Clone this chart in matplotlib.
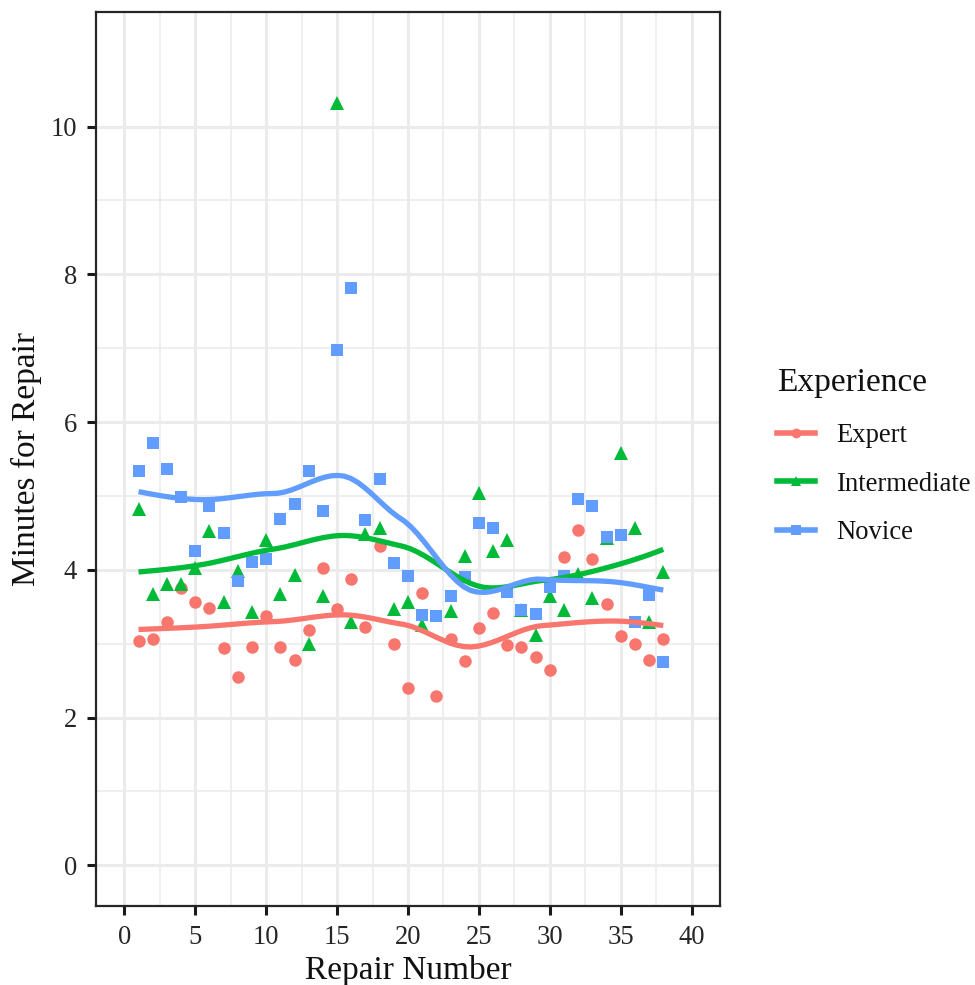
import numpy as np
import matplotlib
matplotlib.use("Agg")
import matplotlib.pyplot as plt
from matplotlib.lines import Line2D

# ---- data ----
expert_x = list(range(1, 39))
expert_y = [3.03, 3.07, 3.29, 3.76, 3.56, 3.48, 2.94, 2.55, 2.96, 3.37,
            2.96, 2.78, 3.19, 4.02, 3.47, 3.88, 3.23, 4.32, 3.00, 2.40,
            3.68, 2.29, 3.06, 2.77, 3.21, 3.41, 2.98, 2.96, 2.82, 2.65,
            4.17, 4.54, 4.14, 3.54, 3.11, 3.00, 2.78, 3.07]

inter_x = list(range(1, 22)) + list(range(23, 39))
inter_y = [4.83, 3.67, 3.81, 3.81, 4.02, 4.53, 3.57, 3.99, 3.43, 4.41,
           3.67, 3.93, 3.00, 3.65, 10.32, 3.29, 4.48, 4.57, 3.47, 3.57,
           3.25, 3.44, 4.19, 5.04, 4.26, 4.41, 3.46, 3.12, 3.65, 3.46,
           3.95, 3.62, 4.43, 5.58, 4.57, 3.29, 3.97]

novice_x = list(range(1, 39))
novice_y = [5.34, 5.71, 5.37, 4.99, 4.26, 4.86, 4.50, 3.85, 4.11, 4.14,
            4.69, 4.89, 5.34, 4.80, 6.98, 7.81, 4.68, 5.23, 4.09, 3.92,
            3.39, 3.37, 3.64, 3.90, 4.64, 4.57, 3.70, 3.46, 3.40, 3.77,
            3.92, 4.96, 4.86, 4.45, 4.47, 3.29, 3.66, 2.75]

groups = ["Expert", "Intermediate", "Novice"]
colors = ["#F8766D", "#00BA38", "#619CFF"]
markers = ["o", "^", "s"]
x_ticks = [0, 5, 10, 15, 20, 25, 30, 35, 40]
y_ticks = [0, 2, 4, 6, 8, 10]
SPAN = 0.75


def local_fit(x, y, x0, q):
    d = np.abs(x - x0)
    h = np.sort(d)[q - 1]
    u = np.clip(d / h, 0, 1)
    w = (1 - u ** 3) ** 3
    X = np.vstack([np.ones(len(x)), x - x0, (x - x0) ** 2]).T
    sw = np.sqrt(w)
    beta, *_ = np.linalg.lstsq(X * sw[:, None], y * sw, rcond=None)
    return beta[0], beta[1]


def loess(x, y, xs, span):
    """R-style loess (degree 2) with kd-tree vertices + cubic Hermite interpolation."""
    x = np.asarray(x, float)
    y = np.asarray(y, float)
    order = np.argsort(x)
    x, y = x[order], y[order]
    n = len(x)
    q = int(np.floor(n * span))
    fc = int(np.floor(n * span * 0.2))
    margin = 0.005 * (x[-1] - x[0])
    verts = {x[0] - margin, x[-1] + margin}

    def split(lo, hi):
        if hi - lo + 1 <= fc:
            return
        m = (lo + hi) // 2
        verts.add((x[m] + x[m + 1]) / 2)
        split(lo, m)
        split(m + 1, hi)

    split(0, n - 1)
    v = np.array(sorted(verts))
    vals = np.array([local_fit(x, y, t, q) for t in v])
    out = []
    for t in xs:
        i = min(max(np.searchsorted(v, t) - 1, 0), len(v) - 2)
        a, b = v[i], v[i + 1]
        hh = b - a
        s = (t - a) / hh
        h00 = 2 * s ** 3 - 3 * s ** 2 + 1
        h10 = s ** 3 - 2 * s ** 2 + s
        h01 = -2 * s ** 3 + 3 * s ** 2
        h11 = s ** 3 - s ** 2
        out.append(h00 * vals[i, 0] + h10 * hh * vals[i, 1]
                   + h01 * vals[i + 1, 0] + h11 * hh * vals[i + 1, 1])
    return np.array(out)


plt.rcParams['font.family'] = ['Liberation Serif', 'DejaVu Serif']

fig = plt.figure(figsize=(9.75, 9.85), dpi=100)
ax = fig.add_axes([96 / 975, 79 / 985, 624 / 975, 894 / 985])

data = [(expert_x, expert_y), (inter_x, inter_y), (novice_x, novice_y)]
handles = []
for (xx, yy), g, c, m in zip(data, groups, colors, markers):
    ms = 9 if m == "o" else (10 if m == "^" else 8.5)
    ax.plot(xx, yy, linestyle="none", marker=m, color=c, markersize=ms,
            markeredgewidth=0, zorder=3)
for (xx, yy), g, c, m in zip(data, groups, colors, markers):
    xs = np.linspace(min(xx), max(xx), 80)
    ax.plot(xs, loess(xx, yy, xs, SPAN), color=c, linewidth=3.8, zorder=4,
            solid_capstyle="butt")
    handles.append(Line2D([], [], color=c, linewidth=4.0, marker=m,
                          markersize=7, markeredgewidth=0, label=g))

ax.set_xlim(-2, 42)
ax.set_ylim(-0.55, 11.55)
ax.set_xticks(x_ticks)
ax.set_yticks(y_ticks)
ax.set_xticks(np.arange(2.5, 40, 5), minor=True)
ax.set_yticks(np.arange(1, 11, 2), minor=True)
ax.grid(which="major", color="#EBEBEB", linewidth=2.2, zorder=0)
ax.grid(which="minor", color="#EBEBEB", linewidth=1.1, zorder=0)
ax.set_axisbelow(True)
ax.tick_params(which="major", length=6.5, width=2.2, color="#1A1A1A",
               labelsize=19.2, labelcolor="#262626", pad=7)
ax.tick_params(which="minor", length=0)
for s in ax.spines.values():
    s.set_color("#262626")
    s.set_linewidth(1.6)
ax.set_xlabel("Repair Number", fontsize=24, labelpad=4, color="#111111")
ax.set_ylabel("Minutes for Repair", fontsize=24, labelpad=6, color="#111111")

leg = fig.legend(handles=handles, title="Experience", loc="upper left",
                 bbox_to_anchor=(766 / 975, 1 - 357 / 985), frameon=False,
                 fontsize=19.2, title_fontsize=24, handlelength=1.45,
                 labelspacing=0.88, handletextpad=0.8, borderaxespad=0)
leg._legend_box.align = "left"
leg._legend_box.sep = 18
for t in leg.get_texts():
    t.set_color("#111111")
leg.get_title().set_color("#111111")

fig.savefig("out.png", dpi=100)
